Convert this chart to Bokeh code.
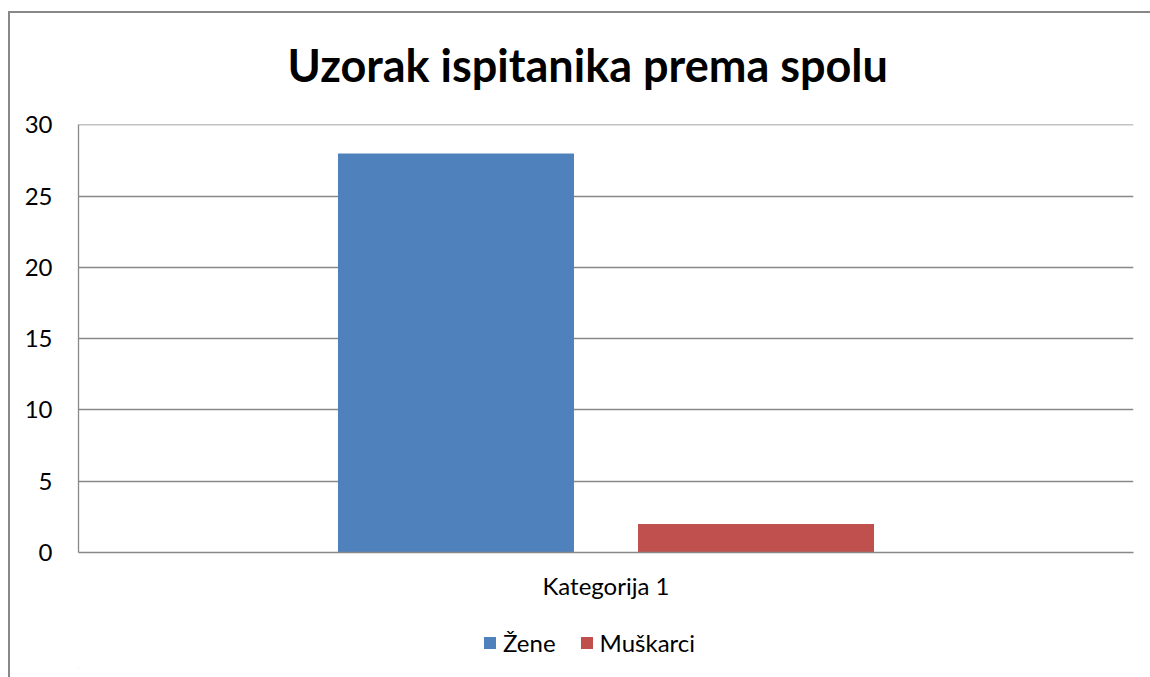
from bokeh.plotting import figure
from bokeh.models import Range1d, FixedTicker, Legend, LegendItem, ColumnDataSource
from bokeh.layouts import column
from bokeh.transform import dodge
from bokeh.embed import file_html
from bokeh.resources import INLINE

title = "Uzorak ispitanika prema spolu"
categories = ["Kategorija 1"]
series_names = ["Žene", "Muškarci"]
zene = [28]
muskarci = [2]
y_ticks = [0, 5, 10, 15, 20, 25, 30]
colors = ["#4F81BD", "#C0504D"]

FONT = "Lato"
GRID = "#888888"

src = ColumnDataSource(dict(cat=categories, zene=zene, muskarci=muskarci))

p = figure(width=1150, height=620, x_range=categories, y_range=Range1d(0, 30.03),
           output_backend="svg", toolbar_location=None,
           min_border_left=78, min_border_right=17, min_border_top=124, min_border_bottom=68)

p.border_fill_color = None
p.background_fill_color = None

p.title.text = title
p.title.text_font = FONT
p.title.text_font_style = "bold"
p.title.text_font_size = "45px"
p.title.align = "left"
p.title.text_color = "#000000"
p.title.standoff = 66
p.title.offset = 209

bw = 0.2237
r1 = p.vbar(x=dodge("cat", -0.1422, range=p.x_range), top="zene", width=bw, source=src,
            fill_color=colors[0], line_color=None)
r2 = p.vbar(x=dodge("cat", 0.1422, range=p.x_range), top="muskarci", width=bw, source=src,
            fill_color=colors[1], line_color=None)

p.outline_line_color = None
p.xgrid.grid_line_color = None
p.ygrid.grid_line_color = GRID
p.ygrid.grid_line_width = 1.3
p.yaxis.ticker = FixedTicker(ticks=y_ticks)
p.yaxis.major_tick_line_color = None
p.yaxis.minor_tick_line_color = None
p.yaxis.axis_line_color = GRID
p.yaxis.axis_line_width = 1.3
p.yaxis.major_label_standoff = 20
p.yaxis.major_label_text_font = FONT
p.yaxis.major_label_text_font_size = "24px"
p.yaxis.major_label_text_color = "#000000"

p.xaxis.axis_line_color = GRID
p.xaxis.axis_line_width = 1.3
p.xaxis.major_tick_line_color = None
p.xaxis.minor_tick_line_color = None
p.xaxis.major_label_standoff = 12
p.xaxis.major_label_text_font = FONT
p.xaxis.major_label_text_font_size = "24px"
p.xaxis.major_label_text_color = "#000000"

# legend strip (a second, axis-less figure directly below); its swatch glyphs sit outside its range
p2 = figure(width=1150, height=57, x_range=Range1d(0, 1), y_range=Range1d(0, 1),
            output_backend="svg", toolbar_location=None,
            min_border_left=78, min_border_right=17, min_border_top=0, min_border_bottom=10)
p2.axis.visible = False
p2.grid.visible = False
p2.outline_line_color = None
p2.border_fill_color = None
p2.background_fill_color = None
swatch_src = ColumnDataSource(dict(x=[-5], top=[-5]))
g1 = p2.vbar("x", top="top", width=1, source=swatch_src, fill_color=colors[0], line_color=None)
g2 = p2.vbar("x", top="top", width=1, source=swatch_src, fill_color=colors[1], line_color=None)
legend = Legend(items=[LegendItem(label=series_names[0], renderers=[g1]),
                       LegendItem(label=series_names[1], renderers=[g2])],
                orientation="horizontal", location=(404, 10),
                label_text_font=FONT, label_text_font_size="24px",
                label_text_color="#000000",
                glyph_width=15, glyph_height=15, spacing=23, label_standoff=6,
                border_line_color=None, background_fill_alpha=0, padding=0, margin=0)
p2.add_layout(legend, "center")

layout = column(p, p2, spacing=0)
layout.styles = {
    "background": "linear-gradient(#888888,#888888) 8px 11px / 2px 800px no-repeat, "
                  "linear-gradient(#888888,#888888) 8px 11px / 1300px 2px no-repeat, white",
    "overflow": "hidden",
}

html = file_html(layout, INLINE)
html = html.replace("<body>", '<body style="margin:0;overflow:hidden">', 1)
open("out.html", "w").write(html)
